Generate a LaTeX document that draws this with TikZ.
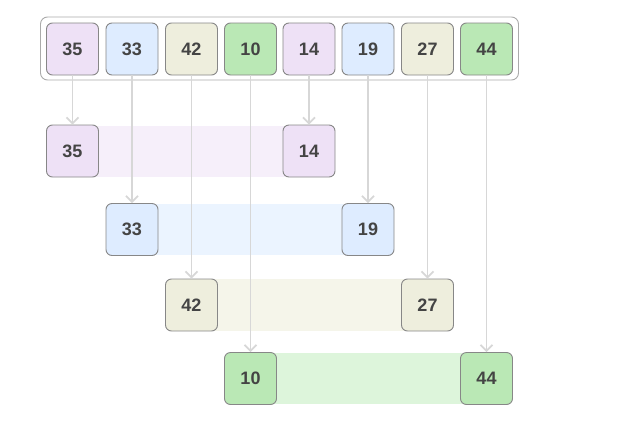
\documentclass[tikz,border=0pt]{standalone}
\usepackage{fontspec}
\setmainfont{Liberation Sans}
\usetikzlibrary{arrows.meta}
\definecolor{pu}{RGB}{238,225,246}
\definecolor{bl}{RGB}{222,236,255}
\definecolor{be}{RGB}{238,238,221}
\definecolor{gr}{RGB}{186,232,181}
\definecolor{puL}{RGB}{246,239,250}
\definecolor{blL}{RGB}{235,244,255}
\definecolor{beL}{RGB}{245,245,234}
\definecolor{grL}{RGB}{221,245,219}
\definecolor{bord}{RGB}{135,135,135}
\definecolor{txt}{RGB}{68,68,68}
\definecolor{arr}{RGB}{215,215,215}
\tikzset{
  cell/.style={draw=bord, line width=0.9pt, rounded corners=6pt, minimum width=52pt, minimum height=52pt, inner sep=0pt, text=txt, font=\fontsize{18}{18}\selectfont\bfseries},
  band/.style={inner sep=0pt, minimum height=51pt},
  link/.style={draw=arr, line width=1.8pt, -{Straight Barb[length=6pt,width=12pt,line width=1.8pt]}},
  frame/.style={draw=bord!70, line width=0.9pt, rounded corners=7pt, fill=white},
}
\begin{document}
\begin{tikzpicture}[x=1pt,y=-1pt]
\useasboundingbox (0,0) rectangle (632,421);
% container
\node[frame, minimum width=478pt, minimum height=63pt, inner sep=0pt] (frm) at (279.5,48.5) {};
% bands
\fill[puL] (72.5,126) rectangle (309,177);
\fill[blL] (132,204) rectangle (368,255);
\fill[beL] (191.5,279) rectangle (427.5,331);
\fill[grL] (250.5,353) rectangle (486.5,404);
% top row
\node[cell, fill=pu] (t1) at (72.5,49) {35};
\node[cell, fill=bl] (t2) at (132,49) {33};
\node[cell, fill=be] (t3) at (191.5,49) {42};
\node[cell, fill=gr] (t4) at (250.5,49) {10};
\node[cell, fill=pu] (t5) at (309,49) {14};
\node[cell, fill=bl] (t6) at (368,49) {19};
\node[cell, fill=be] (t7) at (427.5,49) {27};
\node[cell, fill=gr] (t8) at (486.5,49) {44};
% rows
\node[cell, fill=pu] (a1) at (72.5,151) {35};
\node[cell, fill=pu] (a2) at (309,151) {14};
\node[cell, fill=bl] (b1) at (132,229.5) {33};
\node[cell, fill=bl] (b2) at (368,229.5) {19};
\node[cell, fill=be] (c1) at (191.5,305) {42};
\node[cell, fill=be] (c2) at (427.5,305) {27};
\node[cell, fill=gr] (d1) at (250.5,378.5) {10};
\node[cell, fill=gr] (d2) at (486.5,378.5) {44};
% arrows
\draw[link] (t1.south) -- (a1.north);
\draw[link] (t5.south) -- (a2.north);
\draw[link] (t2.south) -- (b1.north);
\draw[link] (t6.south) -- (b2.north);
\draw[link] (t3.south) -- (c1.north);
\draw[link] (t7.south) -- (c2.north);
\draw[link] (t4.south) -- (d1.north);
\draw[link] (t8.south) -- (d2.north);
\end{tikzpicture}
\end{document}
